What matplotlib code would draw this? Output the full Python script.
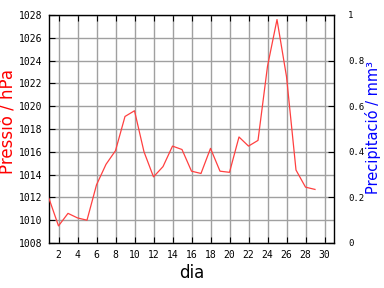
import matplotlib
matplotlib.use("Agg")
import matplotlib.pyplot as plt

# daily mean pressure (hPa), days 1..29
days = list(range(1, 30))
pressure = [1011.9, 1009.5, 1010.6, 1010.2, 1010.0, 1013.1, 1014.9, 1016.1, 1019.1, 1019.6,
            1016.0, 1013.8, 1014.7, 1016.5, 1016.2, 1014.3, 1014.1, 1016.3, 1014.3, 1014.2,
            1017.3, 1016.5, 1017.0, 1023.5, 1027.6, 1022.6, 1014.4, 1012.9, 1012.7]
xticks = list(range(2, 31, 2))
yticks = list(range(1008, 1029, 2))
rticks = [0, 0.2, 0.4, 0.6, 0.8, 1]
rlabels = ["0", "0.2", "0.4", "0.6", "0.8", "1"]

MONO = "DejaVu Sans Mono"
fig = plt.figure(figsize=(3.84, 2.88), dpi=100)
ax = fig.add_axes([49 / 384, 45 / 288, 285 / 384, 228 / 288])
ax.plot(days, pressure, color="#ff4040", lw=0.9, zorder=3)
ax.set_xlim(1, 31)
ax.set_ylim(1008, 1028)
ax.set_xticks(xticks)
ax.set_yticks(yticks)
ax.grid(True, color="#a0a0a0", lw=1)
ax.tick_params(direction="in", length=4, labelsize=7, top=True, pad=5)
for lab in ax.get_xticklabels() + ax.get_yticklabels():
    lab.set_family(MONO)
for s in ax.spines.values():
    s.set_linewidth(1)
ax.spines["right"].set_visible(False)

ax2 = ax.twinx()
ax2.set_ylim(0, 1)
ax2.set_yticks(rticks)
ax2.set_yticklabels(rlabels, family=MONO)
ax2.tick_params(direction="in", length=4, labelsize=6.5, pad=10)
for name, s in ax2.spines.items():
    s.set_visible(name == "right")
    s.set_linewidth(1)

fig.text(0.022, (288 - 122) / 288, "Pressió / hPa", color="red", rotation=90,
         ha="center", va="center", fontsize=12)
fig.text(0.971, (288 - 127) / 288, "Precipitació / mm³", color="blue", rotation=90,
         ha="center", va="center", fontsize=10.5)
fig.text(0.5, 0.052, "dia", ha="center", va="center", fontsize=12)

fig.savefig("out.png", dpi=100)
